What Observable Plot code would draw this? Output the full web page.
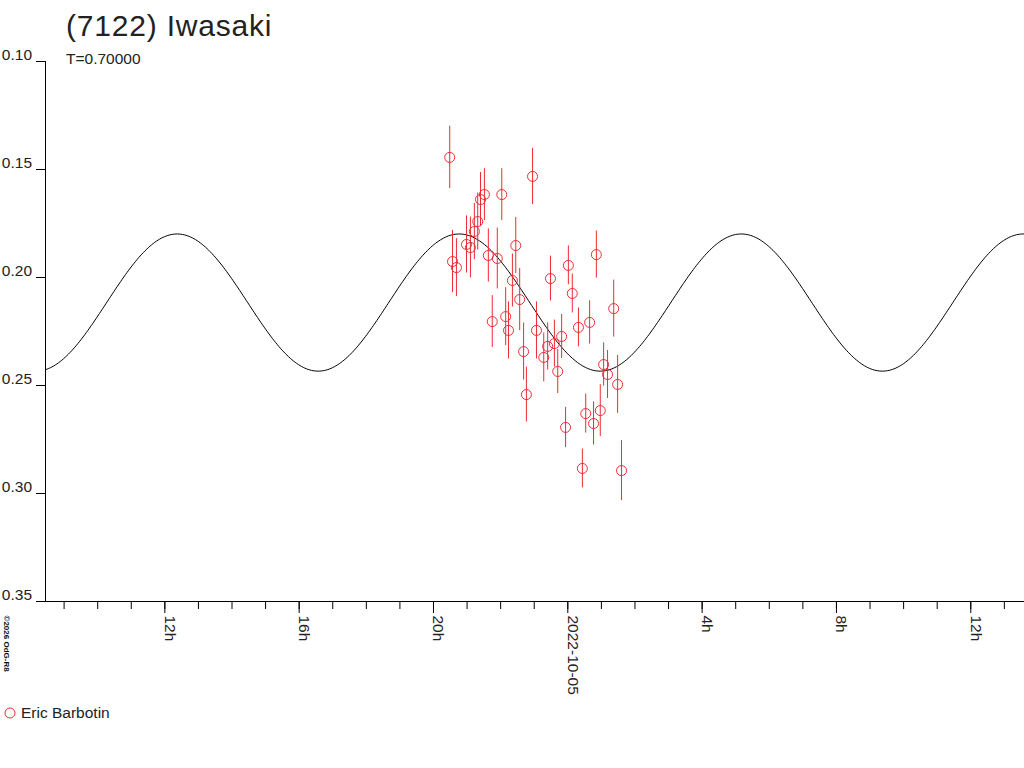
<!DOCTYPE html>
<html>
<head>
<meta charset="utf-8">
<script src="https://cdn.jsdelivr.net/npm/d3@7"></script>
<script src="https://cdn.jsdelivr.net/npm/@observablehq/plot@0.6"></script>
<style>
  html, body { margin: 0; padding: 0; background: #fff; overflow: hidden; }
  body { width: 1024px; height: 768px; position: relative; font-family: "Liberation Sans", Arial, sans-serif; color: #222; }
  #chart { position: absolute; left: 0; top: 0; }
  .t { position: absolute; white-space: nowrap; line-height: 1.15; }
  #title { left: 66px; top: 9px; font-size: 30px; letter-spacing: 0.8px; }
  #subtitle { left: 66px; top: 50px; font-size: 15.5px; }
  #legend { left: 4px; top: 704px; font-size: 15.5px; }
  #legend svg { vertical-align: baseline; }
</style>
</head>
<body>
<div id="chart"></div>
<div class="t" id="title">(7122) Iwasaki</div>
<div class="t" id="subtitle">T=0.70000</div>
<div class="t" id="legend"><svg width="14" height="12" style="margin-right:3px;position:relative;top:1px"><circle cx="6" cy="6" r="5" fill="none" stroke="#ee2b36" stroke-width="1"/></svg>Eric Barbotin</div>
<script>
// Observations (UTC), reduced magnitude and error
const obsTimes = [
  "2022-10-04T20:29Z","2022-10-04T20:34Z","2022-10-04T20:41Z","2022-10-04T20:59Z","2022-10-04T21:06Z",
  "2022-10-04T21:13Z","2022-10-04T21:19Z","2022-10-04T21:24Z","2022-10-04T21:31Z","2022-10-04T21:38Z",
  "2022-10-04T21:45Z","2022-10-04T21:54Z","2022-10-04T22:02Z","2022-10-04T22:09Z","2022-10-04T22:14Z",
  "2022-10-04T22:21Z","2022-10-04T22:27Z","2022-10-04T22:34Z","2022-10-04T22:41Z","2022-10-04T22:46Z",
  "2022-10-04T22:57Z","2022-10-04T23:04Z","2022-10-04T23:17Z","2022-10-04T23:24Z","2022-10-04T23:29Z",
  "2022-10-04T23:36Z","2022-10-04T23:42Z","2022-10-04T23:49Z","2022-10-04T23:56Z","2022-10-05T00:01Z",
  "2022-10-05T00:08Z","2022-10-05T00:19Z","2022-10-05T00:26Z","2022-10-05T00:32Z","2022-10-05T00:39Z",
  "2022-10-05T00:46Z","2022-10-05T00:51Z","2022-10-05T00:58Z","2022-10-05T01:04Z","2022-10-05T01:11Z",
  "2022-10-05T01:22Z","2022-10-05T01:29Z","2022-10-05T01:36Z"
];
const obsMag = [
  0.1444,0.1926,0.1954,0.1847,0.1861,
  0.1787,0.1741,0.1639,0.1616,0.1898,
  0.2204,0.1912,0.1616,0.2181,0.2245,
  0.2014,0.1852,0.2102,0.2343,0.2542,
  0.1532,0.2245,0.2370,0.2319,0.2005,
  0.2306,0.2435,0.2273,0.2694,0.1944,
  0.2074,0.2231,0.2884,0.2630,0.2208,
  0.2676,0.1894,0.2616,0.2403,0.2449,
  0.2144,0.2495,0.2894
];
const obsErr = [
  0.0144,0.0144,0.0134,0.0132,0.0141,
  0.0130,0.0132,0.0125,0.0120,0.0123,
  0.0120,0.0141,0.0120,0.0134,0.0132,
  0.0123,0.0130,0.0144,0.0132,0.0127,
  0.0130,0.0132,0.0113,0.0109,0.0104,
  0.0109,0.0102,0.0102,0.0093,0.0090,
  0.0090,0.0090,0.0090,0.0090,0.0100,
  0.0100,0.0109,0.0120,0.0100,0.0111,
  0.0132,0.0134,0.0139
];

// Lightcurve fit parameters (period T in days, 2nd-harmonic fit)
const fitPeriodDays = 0.70000;
const fitEpoch = "2022-10-04T12:22Z";   // time of maximum brightness
const fitMean = 0.2116;
const fitAmplitude = 0.03175;

// Axes
const xDomain = ["2022-10-04T08:26:45Z", "2022-10-05T13:36Z"];
const yTicks = [0.10, 0.15, 0.20, 0.25, 0.30, 0.35];
const xLabelTimes = ["2022-10-04T12:00Z","2022-10-04T16:00Z","2022-10-04T20:00Z","2022-10-05T00:00Z","2022-10-05T04:00Z","2022-10-05T08:00Z","2022-10-05T12:00Z"];
const xLabels = ["12h","16h","20h","2022-10-05","4h","8h","12h"];

const RED = "#ee2b36";
const obs = obsTimes.map((t, i) => ({t: new Date(t), m: obsMag[i], e: obsErr[i]}));

const t0 = new Date(xDomain[0]), t1 = new Date(xDomain[1]);
const ep = new Date(fitEpoch).getTime();
const halfP = fitPeriodDays * 86400000 / 2;
const N = 600;
const curve = d3.range(N + 1).map(i => {
  const t = t0.getTime() + (t1 - t0) * i / N;
  return {t: new Date(t), m: fitMean - fitAmplitude * Math.cos(2 * Math.PI * (t - ep) / halfP)};
});
const labels = xLabelTimes.map((t, i) => ({t: new Date(t), s: xLabels[i]}));

const chart = Plot.plot({
  width: 1024,
  height: 768,
  marginTop: 61,
  marginBottom: 167,
  marginLeft: 45,
  marginRight: 0,
  style: {fontFamily: "'Liberation Sans', Arial, sans-serif", background: "transparent"},
  x: {type: "utc", domain: [t0, t1], label: null},
  y: {domain: [0.10, 0.35], reverse: true, label: null},
  marks: [
    Plot.ruleX([t0], {stroke: "#000"}),
    Plot.ruleY([0.35], {stroke: "#000"}),
    Plot.axisY({ticks: yTicks, tickSize: 9, tickFormat: () => "", stroke: "#000", label: null}),
    Plot.text(yTicks, {y: d => d, text: d => d.toFixed(2), frameAnchor: "left", dx: -13.5, dy: -2,
      textAnchor: "end", lineAnchor: "bottom", fontSize: 15.5, fill: "#222"}),
    Plot.axisX({ticks: d3.utcHour.every(1), tickSize: 8, tickFormat: () => "", stroke: "#000", label: null}),
    Plot.axisX({ticks: d3.utcHour.every(4), tickSize: 12, tickFormat: () => "", stroke: "#000", label: null}),
    Plot.text(labels, {x: "t", text: "s", frameAnchor: "bottom", rotate: 90, textAnchor: "start",
      lineAnchor: "bottom", dy: 14, fontSize: 15.5, fill: "#222"}),
    Plot.line(curve, {x: "t", y: "m", stroke: "#000", strokeWidth: 1}),
    Plot.ruleX(obs, {x: "t", y1: d => d.m - d.e, y2: d => d.m + d.e, stroke: RED, strokeWidth: 1}),
    Plot.dot(obs, {x: "t", y: "m", r: 5, stroke: RED, fill: "none", strokeWidth: 1}),
    Plot.text(["©2026 OdG-R8"], {text: d => d, frameAnchor: "bottom-left", dx: -42, dy: 14, rotate: 90,
      textAnchor: "start", lineAnchor: "bottom", fontSize: 8, fontWeight: "bold", fill: "#111"})
  ]
});
document.getElementById("chart").appendChild(chart);
</script>
</body>
</html>
